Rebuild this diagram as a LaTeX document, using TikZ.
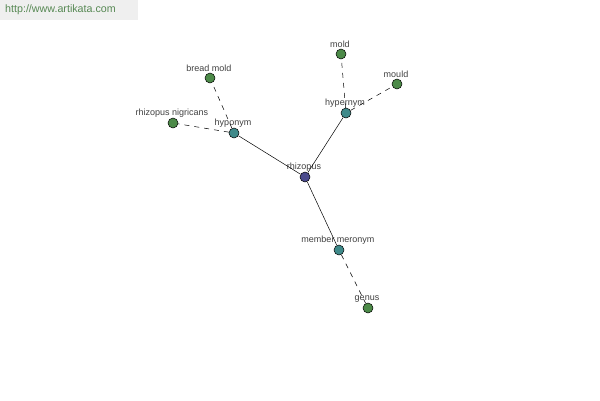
\documentclass[tikz,border=0pt]{standalone}
\usepackage{fontspec}
\setmainfont{Liberation Sans}
\usepackage{xcolor}
\usetikzlibrary{positioning}

\definecolor{rootblue}{HTML}{4A4A8C}
\definecolor{relteal}{HTML}{3F8A8A}
\definecolor{leafgreen}{HTML}{4C8A48}
\definecolor{labelgray}{HTML}{404040}
\definecolor{markgray}{HTML}{EFEFEF}

\tikzset{
    word/.style={circle, draw=black, line width=0.5pt, minimum size=10pt, inner sep=0pt,
        label={[font=\fontsize{9}{10}\selectfont, text=labelgray, inner sep=0.5pt, xshift=-1pt]above:#1}},
    root/.style={word=#1, fill=rootblue},
    rel/.style={word=#1, fill=relteal},
    leaf/.style={word=#1, fill=leafgreen},
    link/.style={black, line width=0.5pt},
    sublink/.style={link, dash pattern=on 5pt off 5pt}
}

\begin{document}
\begin{tikzpicture}[x=1pt, y=-1pt]

\useasboundingbox (0,0) rectangle (600,400);

% watermark
\fill[markgray] (0,0) rectangle (138,20);
\node[anchor=west, font=\fontsize{10.7}{12}\selectfont, text=leafgreen!80!gray, inner sep=0pt] (site) at (5,10)
    {http://www.artikata.com};

% ============================================================
% word nodes
% ============================================================

\node[root=rhizopus]        (rhizopus)  at (305,177) {};

\node[rel=hyponym]          (hyponym)   at (234,133) {};
\node[rel=hypernym]         (hypernym)  at (346,113) {};
\node[rel=member meronym]   (meronym)   at (339,250) {};

\node[leaf=bread mold]          (breadmold)  at (210,78)  {};
\node[leaf=rhizopus nigricans]  (nigricans)  at (173,123) {};
\node[leaf=mold]                (mold)       at (341,54)  {};
\node[leaf=mould]               (mould)      at (397,84)  {};
\node[leaf=genus]               (genus)      at (368,308) {};

% ============================================================
% links
% ============================================================

\draw[link] (rhizopus) -- (hyponym);
\draw[link] (rhizopus) -- (hypernym);
\draw[link] (rhizopus) -- (meronym);

\draw[sublink] (hyponym) -- (breadmold);
\draw[sublink] (hyponym) -- (nigricans);
\draw[sublink] (hypernym) -- (mold);
\draw[sublink] (hypernym) -- (mould);
\draw[sublink] (meronym) -- (genus);

\end{tikzpicture}
\end{document}
